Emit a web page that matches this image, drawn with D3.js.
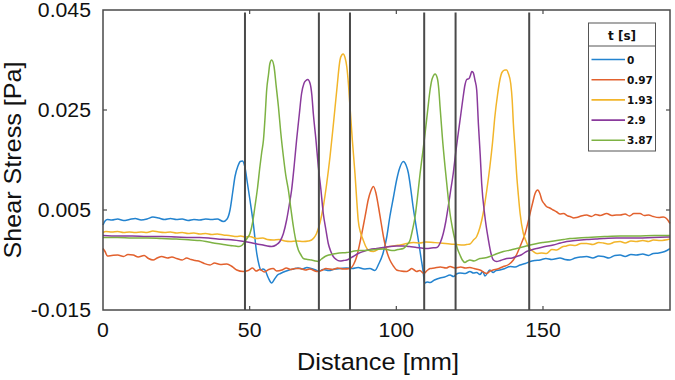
<!DOCTYPE html>
<html><head><meta charset="utf-8">
<script src="https://cdn.jsdelivr.net/npm/d3@7"></script>
<style>body{margin:0;background:#fff}svg{display:block}</style>
</head><body>
<svg id="chart" width="675" height="380"></svg>
<script>
// ---- data ----
const seriesLabels = ["0", "0.97", "1.93", "2.9", "3.87"];
const xTicks = [0, 50, 100, 150];
const yTicks = [-0.015, 0.005, 0.025, 0.045];
const yTickLabels = ["-0.015", "0.005", "0.025", "0.045"];
const markerPositions = [48.4, 73.6, 84.2, 109.5, 120.2, 145.3];

const t0 = [[0,0.0020],[0.7,0.0028],[1.5,0.0031],[3,0.0030],[5,0.0032],[7,0.0029],[9,0.0031],[11,0.0033],[13,0.0030],[15,0.0032],[17,0.0036],[19,0.0034],[21,0.0031],[23,0.0033],[25,0.0031],[27,0.0032],[29,0.0029],[31,0.0031],[33,0.0030],[35,0.0032],[37,0.0031],[39,0.0032],[41,0.0027],[42.3,0.0032],[43.3,0.0050],[44.2,0.0085],[45,0.0117],[46,0.0138],[46.8,0.0147],[47.5,0.0148],[48.3,0.0138],[49.2,0.0105],[50.1,0.0070],[51.2,0.0025],[52.4,-0.0036],[53.2,-0.0060],[53.8,-0.0070],[54.5,-0.0068],[55.2,-0.0070],[56.3,-0.0085],[57.5,-0.0096],[58.5,-0.0088],[59.5,-0.0080],[60.5,-0.0077],[62,-0.0073],[63.5,-0.0070],[65,-0.0068],[66.5,-0.0066],[68,-0.0068],[69.5,-0.0065],[71,-0.0067],[72.5,-0.0070],[73.6,-0.0073],[75,-0.0069],[77,-0.0071],[79,-0.0068],[81,-0.0067],[83,-0.0066],[85,-0.0067],[87,-0.0065],[89,-0.0068],[91,-0.0067],[92.7,-0.0071],[94,-0.0058],[95.5,-0.0036],[96.7,-0.0005],[97.8,0.0037],[99,0.0075],[100.1,0.0110],[101.2,0.0135],[102.4,0.0147],[103.3,0.0140],[104.1,0.0124],[104.9,0.0093],[105.7,0.0057],[106.6,0.0023],[107.5,-0.0010],[108.4,-0.0045],[109.2,-0.0076],[109.6,-0.0096],[110.5,-0.0094],[111.5,-0.0095],[113,-0.0090],[114.9,-0.0086],[116.5,-0.0084],[118.3,-0.0080],[119.5,-0.0083],[120.5,-0.0078],[121.7,-0.0076],[123.5,-0.0077],[125.1,-0.0073],[126.3,-0.0076],[127.4,-0.0075],[128.5,-0.0079],[129.5,-0.0073],[130.2,-0.0082],[131.9,-0.0070],[133,-0.0075],[134,-0.0071],[135.3,-0.0070],[137,-0.0067],[138.8,-0.0063],[140.5,-0.0064],[142.2,-0.0060],[144,-0.0057],[145.6,-0.0053],[147.3,-0.0051],[149,-0.0050],[151,-0.0047],[153,-0.0049],[155.8,-0.0046],[157.5,-0.0049],[159.2,-0.0050],[161,-0.0046],[163,-0.0044],[164.9,-0.0043],[167,-0.0046],[169,-0.0042],[170.6,-0.0043],[172.5,-0.0046],[174.5,-0.0041],[176.3,-0.0040],[178,-0.0043],[180,-0.0039],[181.9,-0.0040],[184,-0.0038],[186,-0.0041],[187.6,-0.0037],[189.5,-0.0036],[191.5,-0.0033],[193.3,-0.0027]];

const t097 = [[0,-0.0027],[0.7,-0.0033],[1.5,-0.0042],[3,-0.0041],[5,-0.0040],[7,-0.0043],[8.5,-0.0039],[10.3,-0.0040],[12,-0.0044],[14,-0.0041],[15.5,-0.0047],[17.1,-0.0050],[18.5,-0.0046],[20,-0.0043],[22,-0.0046],[23.5,-0.0044],[25.1,-0.0047],[27,-0.0050],[28.5,-0.0046],[30,-0.0049],[31.5,-0.0051],[33,-0.0053],[34.5,-0.0057],[36.5,-0.0060],[38,-0.0056],[40,-0.0059],[42.2,-0.0058],[44,-0.0063],[45.6,-0.0070],[47.8,-0.0073],[49.5,-0.0071],[51,-0.0066],[52.2,-0.0072],[53.5,-0.0069],[55,-0.0074],[56.5,-0.0069],[58,-0.0067],[59.2,-0.0072],[61,-0.0070],[62.5,-0.0066],[64,-0.0069],[65.5,-0.0067],[67.2,-0.0067],[69,-0.0070],[70.5,-0.0068],[72.9,-0.0073],[74.5,-0.0071],[76,-0.0067],[78.4,-0.0069],[80,-0.0066],[82,-0.0068],[84.2,-0.0067],[85.5,-0.0058],[86.5,-0.0043],[87.6,-0.0015],[88.7,0.0017],[89.6,0.0045],[90.4,0.0070],[91.3,0.0088],[92.2,0.0097],[93,0.0085],[93.9,0.0057],[94.8,0.0025],[95.6,-0.0003],[96.6,-0.0030],[97.8,-0.0050],[99,-0.0062],[100.1,-0.0070],[101.5,-0.0072],[103.5,-0.0073],[104.5,-0.0070],[105.2,-0.0067],[106.1,-0.0070],[106.9,-0.0073],[108,-0.0071],[109.4,-0.0077],[110.5,-0.0071],[111.5,-0.0067],[113,-0.0066],[115,-0.0064],[117,-0.0066],[118.3,-0.0063],[120,-0.0066],[122,-0.0064],[123.5,-0.0066],[125.1,-0.0065],[126.5,-0.0067],[128.5,-0.0070],[130.8,-0.0077],[132,-0.0072],[133,-0.0070],[134.5,-0.0068],[136.5,-0.0063],[138.3,-0.0059],[139.9,-0.0050],[141.1,-0.0038],[142.2,-0.0023],[143.9,0.0003],[145.6,0.0043],[146.5,0.0065],[147.3,0.0083],[148.2,0.0090],[149,0.0082],[149.6,0.0070],[150.5,0.0062],[151.2,0.0057],[152.3,0.0054],[153.5,0.0050],[154.7,0.0046],[155.8,0.0042],[157,0.0043],[158.5,0.0038],[159.2,0.0037],[160.5,0.0034],[161.5,0.0035],[163,0.0038],[164.9,0.0040],[166.5,0.0037],[168,0.0041],[169.5,0.0039],[171.7,0.0043],[173.5,0.0039],[175,0.0040],[176.3,0.0040],[178,0.0042],[179.5,0.0038],[181,0.0043],[183.1,0.0043],[184.5,0.0039],[186,0.0040],[187.6,0.0037],[189.5,0.0035],[191,0.0036],[192.1,0.0033],[193.3,0.0023]];

const t193 = [[0,0.0005],[1,0.0007],[3,0.0006],[5,0.0007],[7,0.0005],[9,0.0006],[11,0.0005],[13,0.0006],[15,0.0005],[17,0.0008],[19,0.0006],[21,0.0005],[23,0.0006],[25,0.0004],[27,0.0005],[29,0.0003],[31,0.0004],[33,0.0002],[35,0.0003],[37,0.0001],[39,0.0002],[41,0.0000],[43,-0.0001],[45.6,-0.0003],[47,-0.0002],[48.5,-0.0004],[50,-0.0003],[52.4,-0.0007],[54.5,-0.0006],[56,-0.0009],[58,-0.0010],[60,-0.0009],[62,-0.0012],[63.8,-0.0013],[66,-0.0012],[68.3,-0.0013],[70,-0.0012],[71.1,-0.0010],[72,-0.0005],[72.8,0.0003],[74,0.0025],[75.1,0.0057],[76.2,0.0100],[77.4,0.0157],[78.6,0.0225],[79.7,0.0290],[80.8,0.0350],[81.4,0.0360],[81.9,0.0362],[82.5,0.0355],[83.1,0.0337],[83.7,0.0300],[84.2,0.0257],[85,0.0190],[85.9,0.0123],[86.5,0.0070],[87,0.0030],[87.8,0.0005],[88.7,-0.0010],[89.5,-0.0022],[90.4,-0.0030],[92.2,-0.0033],[94.4,-0.0027],[96,-0.0025],[97.8,-0.0023],[100,-0.0021],[101.3,-0.0020],[103.5,-0.0017],[105.8,-0.0015],[108,-0.0016],[110,-0.0014],[112.6,-0.0015],[115,-0.0016],[118.3,-0.0018],[120.5,-0.0019],[122.8,-0.0020],[124,-0.0019],[125.1,-0.0018],[126.3,-0.0010],[127.4,-0.0003],[128.5,0.0015],[129.6,0.0043],[130.8,0.0088],[131.9,0.0137],[132.8,0.0185],[133.6,0.0237],[134.5,0.0280],[135.3,0.0310],[136,0.0325],[137,0.0330],[137.6,0.0330],[138.2,0.0323],[139,0.0303],[139.5,0.0270],[139.9,0.0223],[140.5,0.0170],[141,0.0123],[141.6,0.0080],[142.2,0.0043],[143.3,0.0003],[144.2,-0.0012],[145,-0.0023],[146.5,-0.0032],[147.9,-0.0037],[149.5,-0.0036],[151.2,-0.0037],[153,-0.0029],[154.7,-0.0030],[156.5,-0.0024],[158,-0.0022],[159.2,-0.0020],[161,-0.0021],[163,-0.0017],[164.9,-0.0017],[167,-0.0019],[169,-0.0015],[170.6,-0.0016],[172.5,-0.0018],[174.5,-0.0014],[176.3,-0.0013],[178,-0.0016],[180,-0.0012],[181.9,-0.0013],[184,-0.0011],[186,-0.0013],[187.6,-0.0010],[190,-0.0011],[193.3,-0.0008]];

const t29 = [[0,-0.0001],[5,-0.0002],[10,-0.0002],[15,-0.0003],[20,-0.0003],[25,-0.0004],[30,-0.0005],[33,-0.0005],[36,-0.0006],[39,-0.0008],[42,-0.0009],[44.4,-0.0010],[47,-0.0012],[50.1,-0.0015],[52.5,-0.0018],[54.6,-0.0020],[56,-0.0022],[57.5,-0.0023],[59,-0.0020],[60.3,-0.0013],[61.5,0.0003],[62.6,0.0030],[63.5,0.0060],[64.3,0.0090],[65.2,0.0140],[66,0.0190],[66.9,0.0240],[67.7,0.0283],[68.5,0.0303],[69.2,0.0309],[69.8,0.0311],[70.6,0.0303],[71.2,0.0280],[71.7,0.0243],[72.6,0.0190],[73.4,0.0137],[74.3,0.0090],[75.1,0.0043],[76,0.0010],[76.8,-0.0017],[77.6,-0.0032],[78.5,-0.0043],[79.5,-0.0049],[80.8,-0.0052],[82,-0.0051],[83.1,-0.0050],[84.2,-0.0047],[85.3,-0.0043],[87,-0.0037],[88.7,-0.0033],[91,-0.0029],[93.3,-0.0027],[95.5,-0.0025],[97.8,-0.0023],[100,-0.0022],[102.4,-0.0022],[104.5,-0.0023],[106.9,-0.0025],[108.5,-0.0026],[110.4,-0.0027],[112,-0.0026],[113.8,-0.0025],[115,-0.0015],[116,0.0003],[116.9,0.0028],[117.7,0.0057],[118.5,0.0088],[119.4,0.0123],[120.2,0.0163],[121.1,0.0203],[122,0.0242],[122.8,0.0277],[123.4,0.0300],[124,0.0311],[124.8,0.0313],[125.3,0.0320],[125.7,0.0327],[126.2,0.0325],[126.8,0.0310],[127.4,0.0290],[128,0.0220],[128.6,0.0160],[129.1,0.0103],[130.2,0.0037],[131.4,-0.0010],[132.2,-0.0035],[133.1,-0.0050],[134.2,-0.0053],[135.5,-0.0051],[137.6,-0.0047],[139.5,-0.0046],[141,-0.0043],[142.5,-0.0040],[144.4,-0.0033],[146,-0.0030],[147.9,-0.0027],[150,-0.0024],[153.5,-0.0020],[156,-0.0016],[158.1,-0.0013],[161,-0.0011],[164.9,-0.0009],[168,-0.0008],[170.6,-0.0007],[175,-0.0006],[180,-0.0006],[187.6,-0.0005],[193.3,-0.0004]];

const t387 = [[0,-0.0005],[5,-0.0005],[10,-0.0006],[15,-0.0006],[20,-0.0007],[25,-0.0008],[30,-0.0010],[33,-0.0011],[36,-0.0014],[38.8,-0.0017],[41,-0.0019],[43.3,-0.0021],[45,-0.0022],[46.4,-0.0023],[47.5,-0.0020],[48.4,-0.0013],[49.3,-0.0005],[50.1,0.0003],[51,0.0025],[51.8,0.0057],[52.7,0.0095],[53.5,0.0137],[54.1,0.0165],[54.7,0.0190],[55.3,0.0240],[55.8,0.0290],[56.4,0.0320],[56.9,0.0343],[57.5,0.0350],[58.3,0.0337],[59,0.0300],[59.8,0.0257],[60.6,0.0205],[61.5,0.0157],[62.3,0.0120],[63.2,0.0090],[64,0.0055],[64.9,0.0017],[65.7,-0.0010],[66.6,-0.0030],[67.5,-0.0040],[68.3,-0.0047],[69.7,-0.0049],[71.1,-0.0050],[72.3,-0.0052],[73.4,-0.0053],[74.5,-0.0048],[75.7,-0.0043],[77,-0.0040],[78.5,-0.0038],[80.5,-0.0036],[83.1,-0.0035],[85,-0.0033],[87,-0.0031],[89,-0.0031],[91,-0.0030],[93,-0.0029],[95.6,-0.0028],[97.5,-0.0030],[99,-0.0031],[100.5,-0.0029],[102.4,-0.0027],[103.6,-0.0020],[104.7,-0.0010],[105.5,0.0010],[106.4,0.0037],[107.2,0.0075],[108.1,0.0123],[109,0.0165],[109.8,0.0203],[110.7,0.0250],[111.5,0.0290],[112.1,0.0310],[112.6,0.0318],[113.2,0.0322],[114,0.0313],[114.5,0.0290],[114.9,0.0257],[115.7,0.0195],[116.6,0.0137],[117.5,0.0085],[118.3,0.0043],[119.1,0.0015],[120,-0.0010],[120.8,-0.0027],[121.7,-0.0040],[122.5,-0.0050],[123.4,-0.0055],[124.2,-0.0052],[125.1,-0.0050],[126.5,-0.0052],[128.5,-0.0047],[130,-0.0046],[131.9,-0.0043],[134,-0.0038],[136.5,-0.0033],[139,-0.0030],[141,-0.0027],[143,-0.0024],[145.6,-0.0020],[148,-0.0017],[150.1,-0.0015],[152.5,-0.0013],[154.7,-0.0011],[157,-0.0009],[159.2,-0.0007],[162,-0.0006],[164.9,-0.0005],[168,-0.0004],[172,-0.0003],[176.3,-0.0002],[182,-0.0002],[188,-0.0001],[193.3,-0.0001]];

const seriesData = [t0, t097, t193, t29, t387];
const seriesColors = ["#2383cf", "#e2612e", "#f2b52a", "#8a3a9c", "#7db243"];

// ---- drawing ----
const svg = d3.select("#chart");
const L = 103, R = 670, T = 10, B = 310;
const x = d3.scaleLinear().domain([0, 193.3]).range([L, R]);
const y = d3.scaleLinear().domain([-0.015, 0.045]).range([B, T]);
const font = "'Liberation Sans', Arial, sans-serif";
const frameColor = "#4a4a4a";

const line = d3.line().x(d => x(d[0])).y(d => y(d[1])).curve(d3.curveMonotoneX);

const plot = svg.append("g");
seriesData.forEach((s, i) => {
  plot.append("path").datum(s).attr("d", line)
    .attr("fill", "none").attr("stroke", seriesColors[i])
    .attr("stroke-width", 1.5).attr("stroke-linejoin", "round");
});

// vertical marker lines
svg.append("g").selectAll("line").data(markerPositions).join("line")
  .attr("x1", d => x(d)).attr("x2", d => x(d))
  .attr("y1", y(0.0445)).attr("y2", B)
  .attr("stroke", "#4a4a4a").attr("stroke-width", 2);

// frame
svg.append("rect").attr("x", L).attr("y", T).attr("width", R - L).attr("height", B - T)
  .attr("fill", "none").attr("stroke", frameColor).attr("stroke-width", 1.5);

// ticks (inward, all sides)
const tk = 4;
const tg = svg.append("g").attr("stroke", frameColor).attr("stroke-width", 1.2);
xTicks.filter(v => v > 0).forEach(v => {
  tg.append("line").attr("x1", x(v)).attr("x2", x(v)).attr("y1", B).attr("y2", B - tk);
  tg.append("line").attr("x1", x(v)).attr("x2", x(v)).attr("y1", T).attr("y2", T + tk);
});
yTicks.filter(v => v > -0.015 && v < 0.045).forEach(v => {
  tg.append("line").attr("x1", L).attr("x2", L + tk).attr("y1", y(v)).attr("y2", y(v));
  tg.append("line").attr("x1", R).attr("x2", R - tk).attr("y1", y(v)).attr("y2", y(v));
});

// tick labels
const fs = 19.5;
yTicks.forEach((v, i) => {
  svg.append("text").attr("transform", `translate(${L - 12},${y(v) + 7}) scale(1.09,1)`)
    .attr("text-anchor", "end").attr("font-family", font).attr("font-size", fs)
    .attr("fill", "#111").text(yTickLabels[i]);
});
xTicks.forEach(v => {
  svg.append("text").attr("transform", `translate(${x(v)},${337}) scale(1.09,1)`)
    .attr("text-anchor", "middle").attr("font-family", font).attr("font-size", fs)
    .attr("fill", "#111").text(String(v));
});

// axis titles
svg.append("text").attr("transform", `translate(378,370) scale(1.08,1)`)
  .attr("text-anchor", "middle").attr("font-family", font).attr("font-size", 23.5)
  .attr("fill", "#111").text("Distance [mm]");
svg.append("text").attr("transform", `translate(21,160) rotate(-90) scale(1.07,1)`)
  .attr("text-anchor", "middle").attr("font-family", font).attr("font-size", 23.5)
  .attr("fill", "#111").text("Shear Stress [Pa]");

// legend
const lg = svg.append("g");
const lx = 588.5, ly = 23, lw = 67, lh = 128;
lg.append("rect").attr("x", lx).attr("y", ly).attr("width", lw).attr("height", lh)
  .attr("fill", "#fff").attr("stroke", "#555").attr("stroke-width", 1);
lg.append("line").attr("x1", lx).attr("x2", lx + lw).attr("y1", 46).attr("y2", 46)
  .attr("stroke", "#555").attr("stroke-width", 1);
lg.append("text").attr("x", lx + lw / 2).attr("y", 39.5).attr("text-anchor", "middle")
  .attr("font-family", "'DejaVu Sans', Verdana, sans-serif").attr("font-weight", "bold")
  .attr("font-size", 12).attr("fill", "#111").text("t [s]");
seriesLabels.forEach((lab, i) => {
  const yy = 59.5 + i * 20.2;
  lg.append("line").attr("x1", 591.5).attr("x2", 625).attr("y1", yy).attr("y2", yy)
    .attr("stroke", seriesColors[i]).attr("stroke-width", 1.6);
  lg.append("text").attr("x", 627).attr("y", yy + 4).attr("font-family", "'DejaVu Sans', Verdana, sans-serif")
    .attr("font-weight", "bold").attr("font-size", 10.5).attr("fill", "#111").text(lab);
});
</script>
</body></html>
